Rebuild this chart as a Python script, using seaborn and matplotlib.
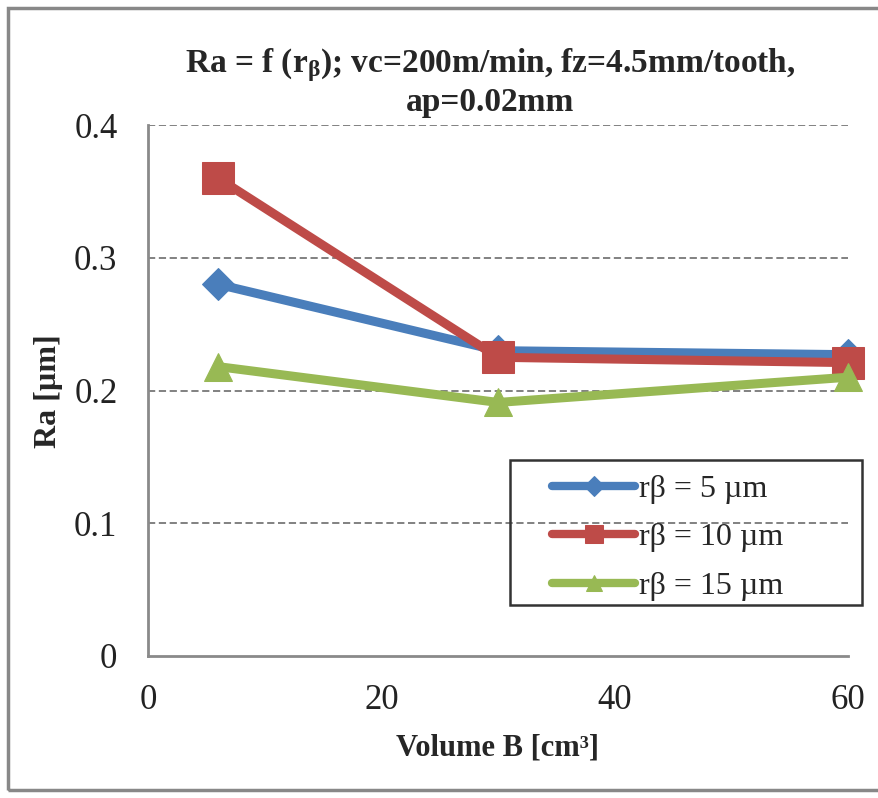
import matplotlib
matplotlib.use("Agg")
import matplotlib.pyplot as plt
import seaborn as sns
import pandas as pd
from matplotlib.patches import Rectangle

# ---- data ----
volume_b = [6, 30, 60]
ra_r5 = [0.28, 0.23, 0.227]
ra_r10 = [0.36, 0.225, 0.221]
ra_r15 = [0.218, 0.191, 0.210]
series_labels = ["rβ = 5 µm", "rβ = 10 µm", "rβ = 15 µm"]
x_ticks = [0, 20, 40, 60]
y_ticks = [0, 0.1, 0.2, 0.3, 0.4]

rows = []
for lab, vals in zip(series_labels, [ra_r5, ra_r10, ra_r15]):
    for x, y in zip(volume_b, vals):
        rows.append({"Volume B": x, "Ra": y, "series": lab})
df = pd.DataFrame(rows)

sns.set_theme(style="white")
plt.rcParams["font.family"] = ["Liberation Serif", "DejaVu Serif"]
plt.rcParams["mathtext.fontset"] = "custom"
plt.rcParams["mathtext.rm"] = "Liberation Serif"
plt.rcParams["mathtext.bf"] = "Liberation Serif:bold"
plt.rcParams["mathtext.it"] = "Liberation Serif:bold"

W, H = 879, 798
fig = plt.figure(figsize=(W/100, H/100), dpi=100)
ax = fig.add_axes([148/W, 1-656/H, 700/W, 531/H])

palette = {series_labels[0]: "#4A7EBB", series_labels[1]: "#BE4B48", series_labels[2]: "#98B954"}
markers = {series_labels[0]: "D", series_labels[1]: "s", series_labels[2]: "^"}
sizes_m = {series_labels[0]: 16, series_labels[1]: 23, series_labels[2]: 20}
leg_sizes = {series_labels[0]: 10, series_labels[1]: 13, series_labels[2]: 11}

for lab in series_labels:
    sub = df[df["series"] == lab]
    sns.lineplot(data=sub, x="Volume B", y="Ra", color=palette[lab], marker=markers[lab],
                 markersize=sizes_m[lab], markeredgecolor=palette[lab], linewidth=6.5,
                 label=lab, ax=ax, zorder=3)

ax.set_xlim(0, 60)
ax.set_ylim(0, 0.4)
ax.set_xticks(x_ticks)
ax.set_yticks(y_ticks)
ax.set_xticklabels([str(t) for t in x_ticks])
ax.set_yticklabels(["0"] + [f"{t:.1f}" for t in y_ticks[1:]])
ax.tick_params(axis="both", length=0, labelsize=25, colors="#222222")
ax.tick_params(axis="x", pad=20)
ax.tick_params(axis="y", pad=22)
for ln in ax.lines:
    ln.set_clip_on(False)

for t in y_ticks[1:]:
    ax.axhline(t, color="#777777", linestyle=(0, (4, 2)), linewidth=1.3, zorder=1)

for s in ["top", "right"]:
    ax.spines[s].set_visible(False)
for s in ["left", "bottom"]:
    ax.spines[s].set_color("#8a8a8a")
    ax.spines[s].set_linewidth(2)

ax.set_xlabel("Volume B [cm³]", fontsize=22, fontweight="bold")
ax.set_ylabel("Ra [µm]", fontsize=23, fontweight="bold")
ax.xaxis.set_label_coords((498-148)/700, (656-733)/531)
ax.yaxis.set_label_coords((63-148)/700, (656-391)/531)
ax.set_title("Ra = f (r$_{β}$); vc=200m/min, fz=4.5mm/tooth,\nap=0.02mm",
             fontsize=24, fontweight="bold", pad=10, linespacing=1.15, x=(490-148)/700)

leg = ax.legend(loc="upper left", bbox_to_anchor=((530-148)/700, (656-452)/531),
                fontsize=23, frameon=False, handlelength=2.6,
                handletextpad=0.1, labelspacing=0.6, borderpad=0.2)
for h, lab in zip(leg.legend_handles, series_labels):
    h.set_markersize(leg_sizes[lab])
    h.set_linewidth(6)

ax.add_patch(Rectangle(((510-148)/700, (656-605)/531), (862-510)/700, (605-460)/531,
                       transform=ax.transAxes, fill=False, edgecolor="#333333",
                       linewidth=1.8, zorder=5, clip_on=False))

fig.patches.append(Rectangle((8/W, 8/H), 1.0, 782/H, transform=fig.transFigure,
                             fill=False, edgecolor="#888888", linewidth=2.5))

fig.savefig("out.png", dpi=100, facecolor="white")
